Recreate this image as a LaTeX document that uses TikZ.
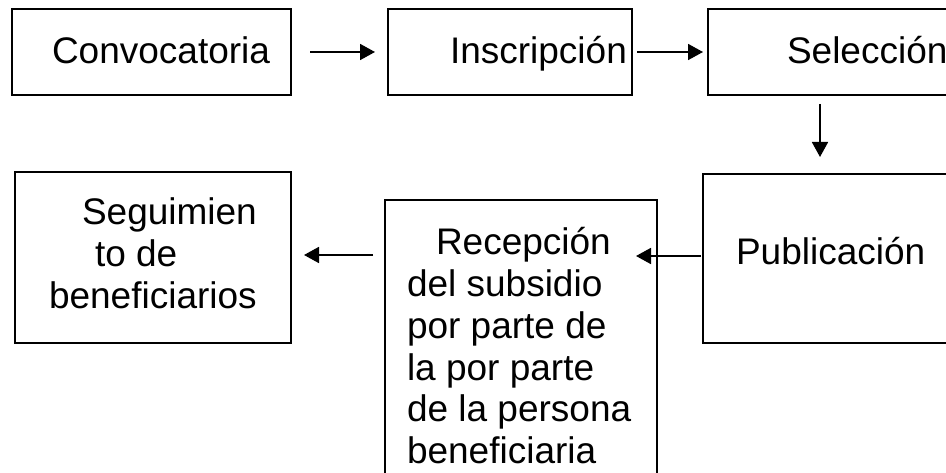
\documentclass[tikz,border=0pt]{standalone}
\usepackage{fontspec}
\setmainfont{Liberation Sans}
\usetikzlibrary{arrows.meta}
\begin{document}
\begin{tikzpicture}[x=1pt,y=1pt,
  box/.style={draw, line width=1.8pt, rectangle, anchor=north west, inner sep=0pt, outer sep=0pt},
  lbl/.style={anchor=base west, inner sep=0pt, outer sep=0pt, font=\fontsize{37}{41.7}\selectfont},
  arr/.style={line width=1.8pt, -{Triangle[length=15pt,width=16pt]}}]
\useasboundingbox (0,0) rectangle (946,472);
\clip (0,0) rectangle (946,472);
% boxes
\node[box, minimum width=279pt, minimum height=86pt] (conv) at (12,463) {};
\node[box, minimum width=244pt, minimum height=86pt] (insc) at (388,463) {};
\node[box, minimum width=300pt, minimum height=86pt] (sel) at (708,463) {};
\node[box, minimum width=300pt, minimum height=169pt] (pub) at (703,298) {};
\node[box, minimum width=272pt, minimum height=300pt] (rec) at (385,272) {};
\node[box, minimum width=276pt, minimum height=171pt] (seg) at (15,300) {};
% texts
\node[lbl] (tconv) at (52,408) {Convocatoria};
\node[lbl] (tinsc) at (450,408) {Inscripción};
\node[lbl] (tsel) at (787,408) {Selección};
\node[lbl] (tpub) at (736,207) {Publicación};
\node[lbl] (trec) at (407,217) {\vtop{\baselineskip=41.7pt
  \hbox{\hspace*{29pt}Recepción}
  \hbox{del subsidio}
  \hbox{por parte de}
  \hbox{la por parte}
  \hbox{de la persona}
  \hbox{beneficiaria}}};
\node[lbl] (tseg) at (49,247) {\vtop{\baselineskip=41.7pt
  \hbox{\hspace*{33pt}Seguimien}
  \hbox{\hspace*{46pt}to de}
  \hbox{beneficiarios}}};
% connectors
\draw[arr, shorten <=19pt, shorten >=13pt] (conv.east) -- (insc.west);
\draw[arr, shorten <=5pt, shorten >=5pt] (insc.east) -- (sel.west);
\draw[arr, shorten <=9pt, shorten >=17pt] ([xshift=112pt]sel.south west) -- ([xshift=117pt]pub.north west);
\draw[arr, shorten <=2pt, shorten >=-21pt] ([yshift=2.5pt]pub.west) -- ([yshift=2.5pt]pub.west -| rec.east);
\draw[arr, shorten <=12pt, shorten >=13pt] ([yshift=2.5pt]rec.west |- seg.east) -- ([yshift=2.5pt]seg.east);
\end{tikzpicture}
\end{document}
